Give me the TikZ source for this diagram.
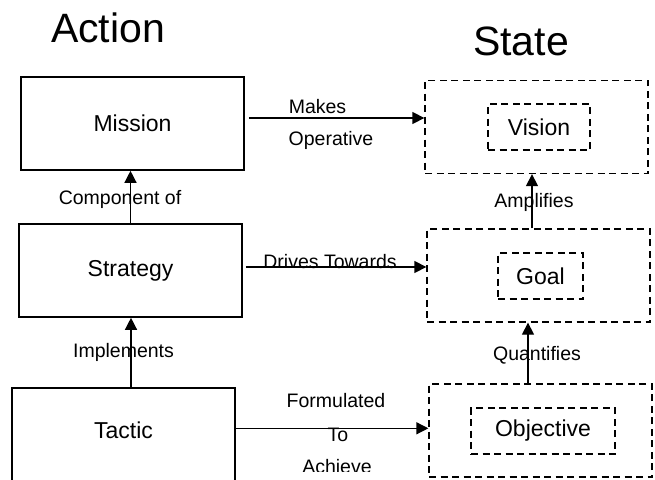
\documentclass[tikz,border=0pt]{standalone}
\usepackage{fontspec}
\setmainfont{Liberation Sans}
\usetikzlibrary{arrows.meta,calc}

\tikzset{
  actbox/.style={draw, line width=1.6pt, minimum width=223pt, minimum height=93pt,
    inner sep=0pt, font=\fontsize{23}{28}\selectfont},
  outerbox/.style={draw, line width=1.3pt, dash pattern=on 7pt off 4.5pt,
    minimum width=223pt, minimum height=93pt, inner sep=0pt},
  innerbox/.style={draw, line width=1.3pt, dash pattern=on 7pt off 4.5pt,
    inner sep=0pt, font=\fontsize{23}{28}\selectfont},
  arr/.style={line width=1.3pt, -{Triangle[length=12pt,width=12pt]}},
  lbl/.style={anchor=base, inner sep=0pt, font=\fontsize{19.5}{24}\selectfont},
  title/.style={anchor=base, inner sep=0pt, font=\fontsize{41}{48}\selectfont}
}

\begin{document}
\begin{tikzpicture}[x=1pt, y=-1pt]
\useasboundingbox (0,0) rectangle (655,479);
\clip (0,0) rectangle (655,479);

% column headings
\node[title] (hact) at (108,42) {Action};
\node[title] (hstate) at (521,55) {State};

% action column
\node[actbox] (mission) at (132.5,123.5) {Mission};
\node[actbox] (strategy) at (130.5,270.5) {Strategy};
\node[actbox, anchor=north, text depth=8pt] (tactic) at (123.5,387) {Tactic};

% state column
\node[outerbox] (vision) at (536.5,127) {};
\node[innerbox, minimum width=102pt, minimum height=46pt] (visionin) at (539,127) {Vision};
\node[outerbox] (goal) at (538.5,275.5) {};
\node[innerbox, minimum width=85pt, minimum height=46pt] (goalin) at (540.5,276) {Goal};
\node[outerbox] (objective) at (540.5,430.5) {};
\node[innerbox, minimum width=144pt, minimum height=46pt] (objectivein) at (543,431) {Objective};

% horizontal relations
\coordinate (m1) at ([shift={(4,-5.5)}]mission.east);
\draw[arr] (m1) -- (m1 -| vision.west);
\coordinate (s1) at ([shift={(3,-3.5)}]strategy.east);
\draw[arr] (s1) -- (s1 -| goal.west);
\coordinate (t1) at ([shift={(0,-6)}]tactic.east);
\draw[arr] (t1) -- (t1 -| objective.west);

% vertical relations
\draw[arr] (strategy.north) -- (strategy.north |- mission.south);
\coordinate (t2) at ([shift={(7.5,0)}]tactic.north);
\draw[arr] (t2) -- (t2 |- strategy.south);
\coordinate (g1) at ([shift={(-6.5,0)}]goal.north);
\draw[arr] (g1) -- (g1 |- vision.south);
\coordinate (o1) at ([shift={(-12.5,0)}]objective.north);
\draw[arr] (o1) -- (o1 |- goal.south);

% relation labels
\node[lbl] (lmakes) at (317.5,113) {Makes};
\node[lbl] (loper) at (331,145) {Operative};
\node[lbl] (ldrives) at (330,268) {Drives Towards};
\node[lbl] (lcomp) at (120,204) {Component of};
\node[lbl] (limpl) at (123.5,357) {Implements};
\node[lbl] (lampl) at (534,207) {Amplifies};
\node[lbl] (lquant) at (537,360) {Quantifies};
\node[lbl] (lform) at (336,407) {Formulated};
\node[lbl] (lto) at (338,441) {To};
\begin{scope}
  \clip (0,0) rectangle (655,471);
  \node[lbl] (lach) at (337,473) {Achieve};
\end{scope}
\end{tikzpicture}
\end{document}
